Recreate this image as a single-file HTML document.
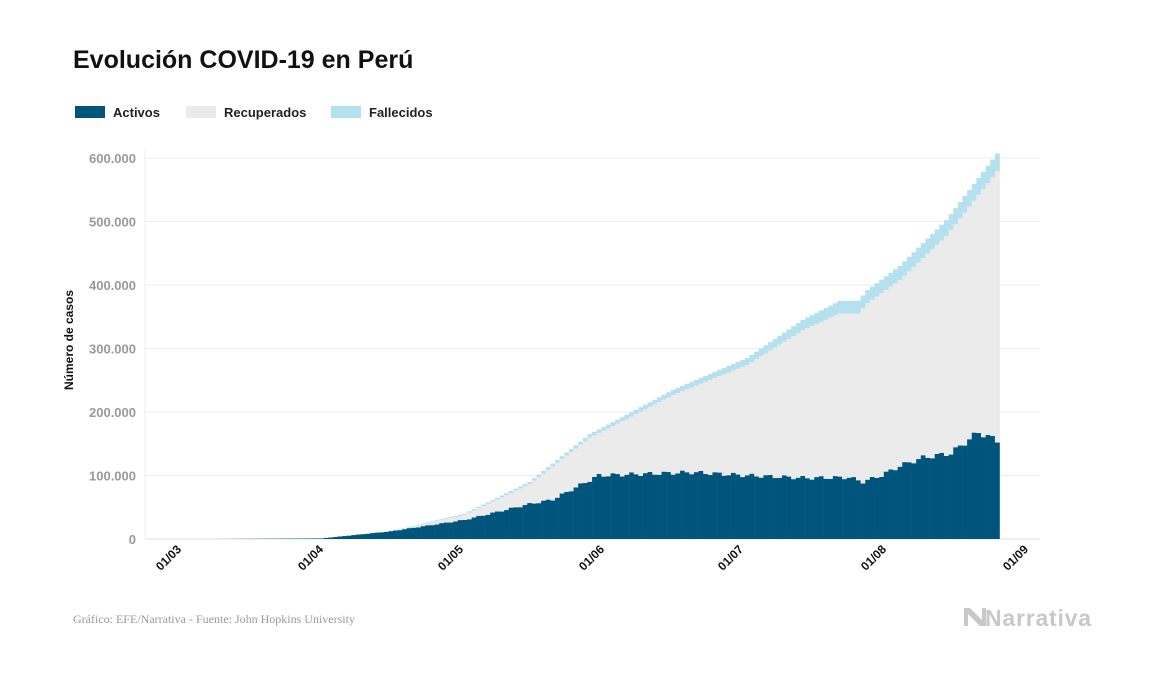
<!DOCTYPE html>
<html><head><meta charset="utf-8"><style>
body{margin:0;background:#fff;width:1157px;height:674px;overflow:hidden;font-family:"Liberation Sans",sans-serif}
</style></head><body>
<svg id="s" width="1157" height="674" xmlns="http://www.w3.org/2000/svg">
<text x="73" y="68" font-size="25" font-weight="bold" fill="#111">Evolución COVID-19 en Perú</text>
<rect x="75" y="106" width="30" height="12" fill="#00557c"/>
<text x="113" y="117" font-size="13" font-weight="bold" fill="#222">Activos</text>
<rect x="186" y="106" width="30" height="12" fill="#ebebeb"/>
<text x="224" y="117" font-size="13" font-weight="bold" fill="#222">Recuperados</text>
<rect x="331" y="106" width="30" height="12" fill="#b5e0ee"/>
<text x="369" y="117" font-size="13" font-weight="bold" fill="#222">Fallecidos</text>
<text transform="translate(73,340) rotate(-90)" text-anchor="middle" font-size="12" font-weight="bold" fill="#111">Número de casos</text>
<g id="grid"></g>
<g id="bars"></g>
<g id="xl"></g>
<text x="73" y="623" font-family="Liberation Serif,serif" font-size="12" fill="#999">Gráfico: EFE/Narrativa - Fuente: John Hopkins University</text>
<polygon points="964,608 970,608 982,620 982,608 986,608 986,626 980,626 968,614 968,626 964,626" fill="#c8c8c8"/>
<text x="985" y="626" font-size="23" font-weight="bold" fill="#c8c8c8" textLength="106">Narrativa</text>
</svg>
<script>
var NS="http://www.w3.org/2000/svg";
function el(p,t,a,txt){var e=document.createElementNS(NS,t);for(var k in a)e.setAttribute(k,a[k]);if(txt)e.textContent=txt;document.getElementById(p).appendChild(e);}
var y0=539,k=381/600000;
for(var i=0;i<=6;i++){var y=y0-i*100000*k;
 el("grid","line",{x1:145,x2:1040,y1:y,y2:y,stroke:i?"#ececec":"#e0e0e0","stroke-width":1});
 el("grid","text",{x:136,y:y+5,"text-anchor":"end","font-size":13,"font-weight":"bold",fill:"#999"},i?(i*100)+".000":"0");}
el("grid","line",{x1:145,x2:145,y1:150,y2:539,stroke:"#ececec"});
var ticks=[180,322,462,603,742,885,1027],lab=["01/03","01/04","01/05","01/06","01/07","01/08","01/09"];
ticks.forEach(function(x,i){el("xl","text",{transform:"translate("+(x+2)+",550) rotate(-45)","text-anchor":"end","font-size":12,"font-weight":"bold",fill:"#111"},lab[i]);});
function interp(pts,d){for(var i=1;i<pts.length;i++){if(d<=pts[i][0]){var a=pts[i-1],b=pts[i];return a[1]+(b[1]-a[1])*(d-a[0])/(b[0]-a[0]);}}return pts[pts.length-1][1];}
var T=[[0,0],[6,0],[30,1100],[45,12000],[61,40000],[75,90000],[88,165000],[92,180000],[106,235000],[122,285000],[134,345000],[142,375000],[146,375000],[148,392000],[155,430000],[165,502000],[176,607000]];
var A=[[0,0],[6,0],[30,900],[45,12000],[61,30000],[75,55000],[80,62000],[86,85000],[90,100000],[110,105000],[122,100000],[135,96000],[144,97000],[147,90000],[151,100000],[155,115000],[160,128000],[166,135000],[172,168000],[176,155000]];
var D=[[0,0],[30,30],[61,2000],[92,6000],[122,11000],[142,20000],[146,20000],[176,28000]];
var w=4.63;
for(var d=6;d<=176;d++){
 var x=180+d*w,t=interp(T,d),a=interp(A,d)*(1+0.03*Math.sin(d*1.7)),de=interp(D,d);
 var ya=y0-a*k,yr=y0-(t-de)*k,yt=y0-t*k;
 el("bars","rect",{x:x.toFixed(2),y:yt.toFixed(2),width:w+0.3,height:Math.max(0,yr-yt).toFixed(2),fill:"#b5e0ee"});
 el("bars","rect",{x:x.toFixed(2),y:yr.toFixed(2),width:w+0.3,height:Math.max(0,ya-yr).toFixed(2),fill:"#ebebeb"});
 el("bars","rect",{x:x.toFixed(2),y:ya.toFixed(2),width:w+0.3,height:Math.max(0,y0-ya).toFixed(2),fill:"#00557c"});
}
</script>
</body></html>
